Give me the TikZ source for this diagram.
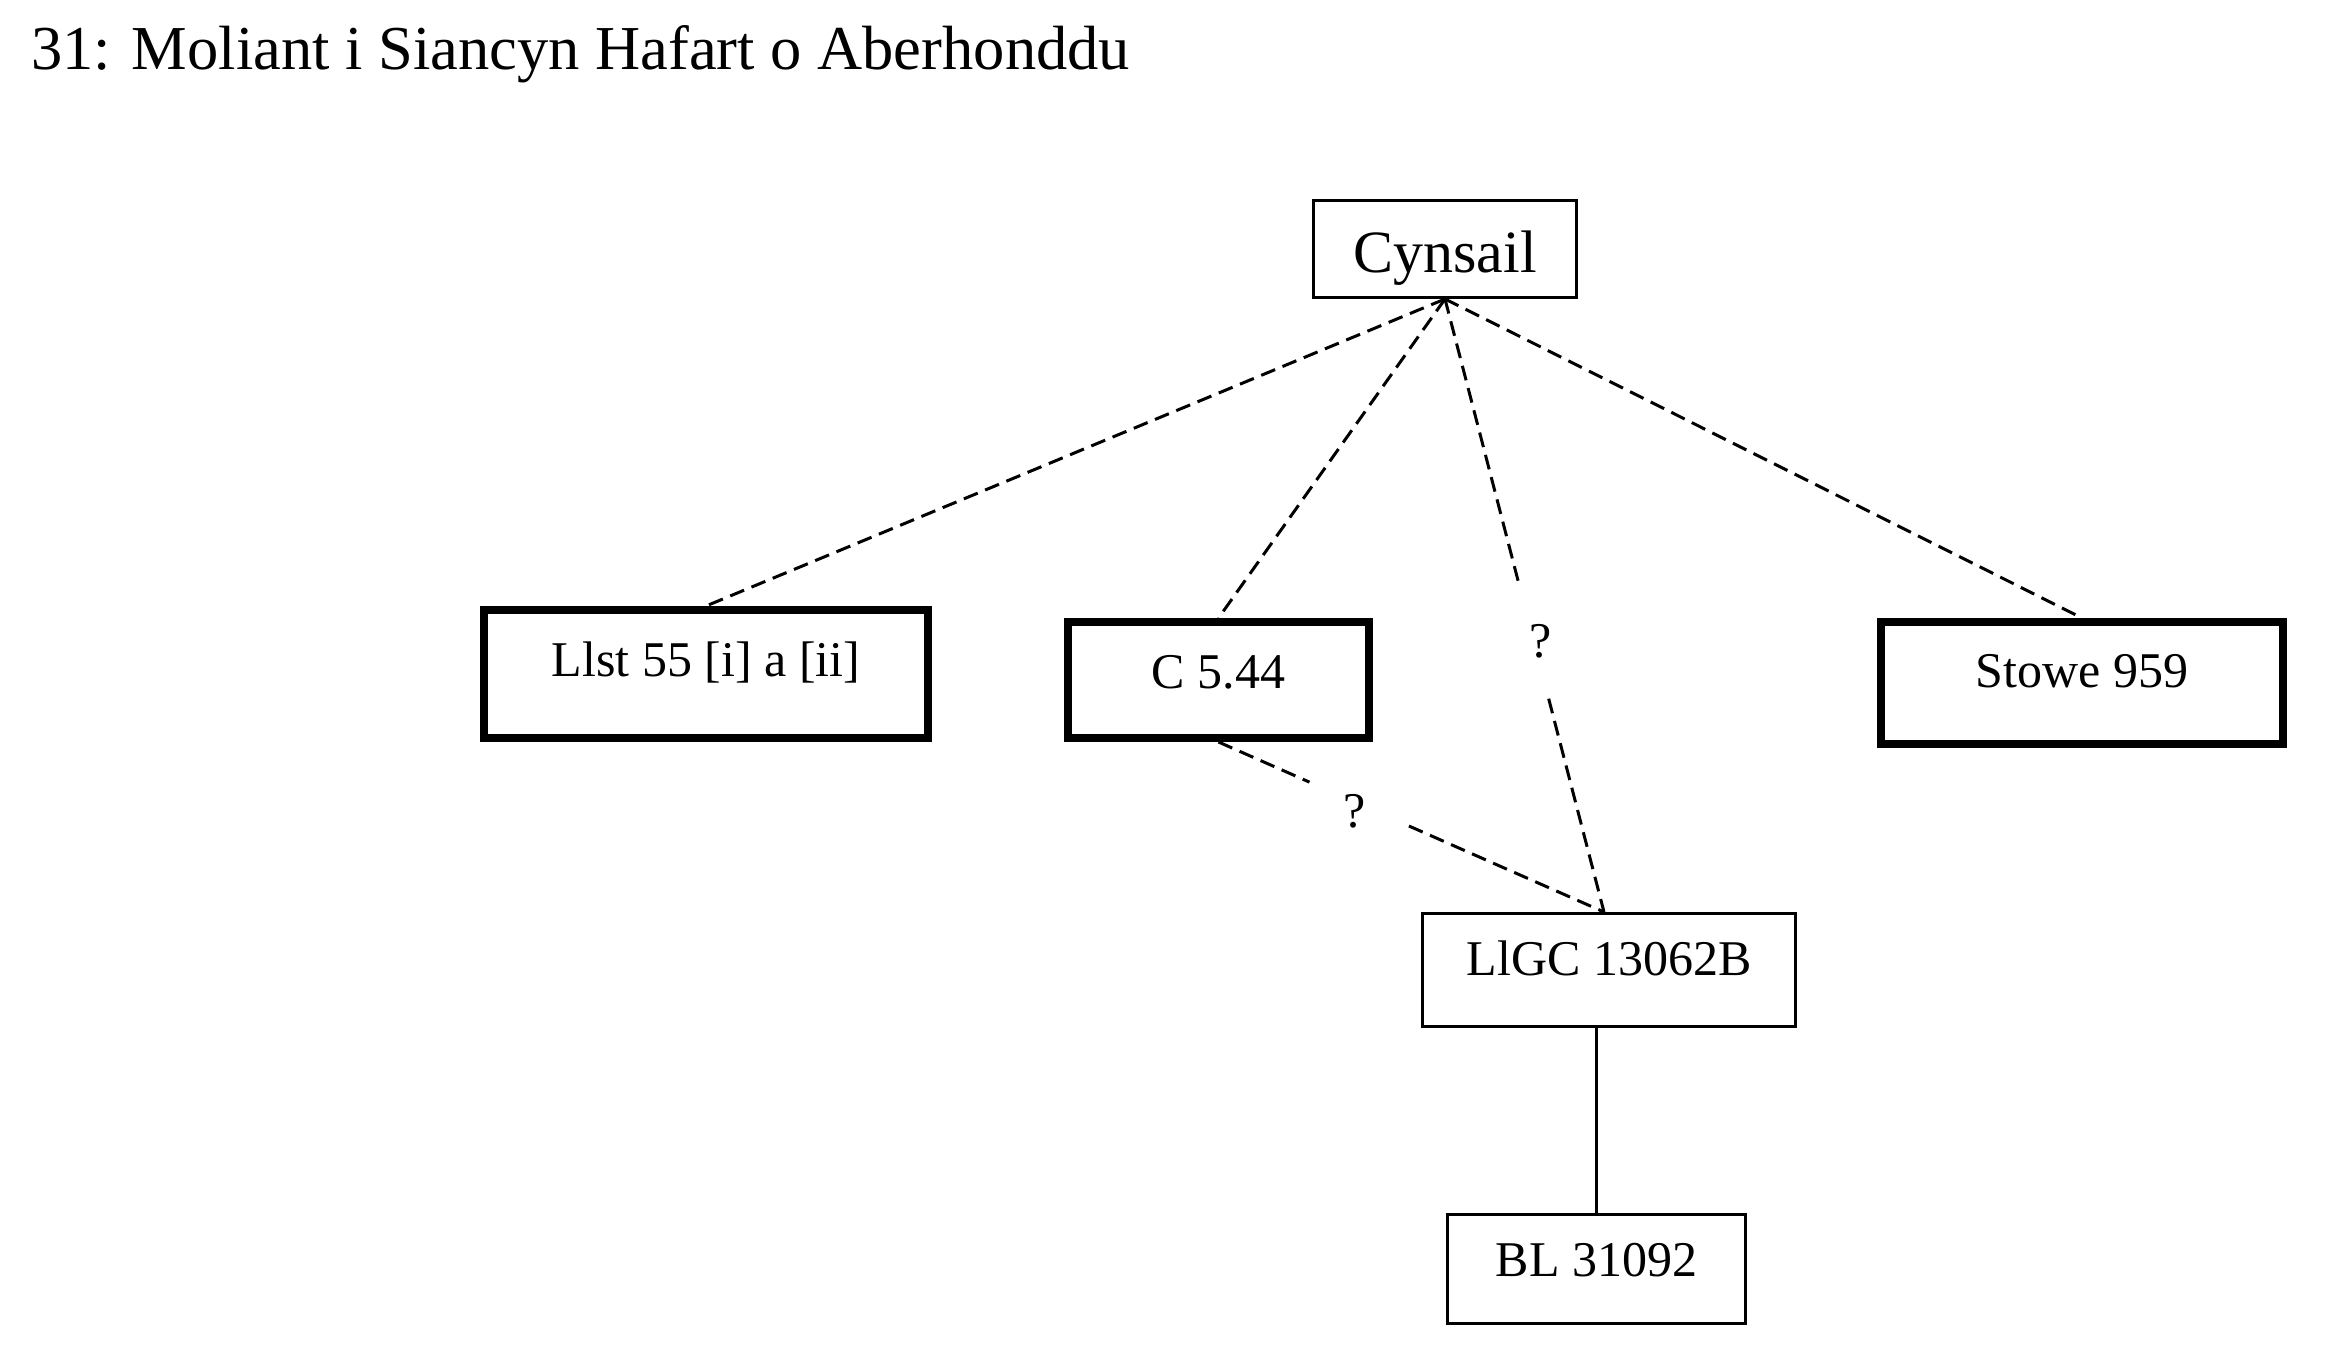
\documentclass[tikz,border=0pt]{standalone}
\usepackage{fontspec}
\setmainfont{Liberation Serif}
\usetikzlibrary{calc}
\begin{document}
\begin{tikzpicture}[x=1pt,y=-1pt,
  thickbox/.style={draw, line width=8pt, inner sep=0pt, font=\fontsize{50}{60}\selectfont},
  thinbox/.style={draw, line width=3pt, inner sep=0pt, font=\fontsize{50}{60}\selectfont},
  link/.style={line width=3pt, dash pattern=on 15pt off 8pt},
  solidlink/.style={line width=3pt},
  qlabel/.style={inner sep=0pt, anchor=base, font=\fontsize{50}{60}\selectfont}]
\useasboundingbox (0,0) rectangle (2330,1371);
\node[anchor=base west, inner sep=0pt, font=\fontsize{62.5}{75}\selectfont] (title) at (31,69) {31: Moliant i Siancyn Hafart o Aberhonddu};
\node[thinbox, minimum width=263pt, minimum height=97pt, text height=58pt, text depth=12pt, font=\fontsize{60}{72}\selectfont] (cyn) at (1445,249) {Cynsail};
\node[thickbox, minimum width=444pt, minimum height=128pt, text height=37pt, text depth=33pt] (llst) at (706,674) {Llst 55 [i] a [ii]};
\node[thickbox, minimum width=301pt, minimum height=116pt, text height=43pt, text depth=27pt] (c) at (1218.5,680) {C 5.44};
\node[thickbox, minimum width=402pt, minimum height=122pt, text height=39pt, text depth=31pt] (stowe) at (2082,683) {Stowe 959};
\node[thinbox, minimum width=373pt, minimum height=113pt, text height=40pt, text depth=30pt] (lg) at (1609,970) {LlGC 13062B};
\node[thinbox, minimum width=298pt, minimum height=109pt, text height=42pt, text depth=28pt] (bl) at (1596.5,1269) {BL 31092};
\coordinate (lgtop) at ($(lg.north)+(-5,0)$);
\draw[link] (cyn.south) -- (llst.north);
\draw[link] (cyn.south) -- (c.north);
\draw[link] (cyn.south) -- (stowe.north);
\draw[link] (cyn.south) -- ($(cyn.south)!0.472!(lgtop)$);
\draw[link] ($(cyn.south)!0.652!(lgtop)$) -- (lgtop);
\draw[link] (c.south) -- ($(c.south)!0.236!(lgtop)$);
\draw[link] ($(c.south)!0.494!(lgtop)$) -- (lgtop);
\draw[solidlink] (lg.south -| bl.north) -- (bl.north);
\node[qlabel] (q1) at (1355,827) {?};
\node[qlabel] (q2) at (1541,657) {?};
\end{tikzpicture}
\end{document}
